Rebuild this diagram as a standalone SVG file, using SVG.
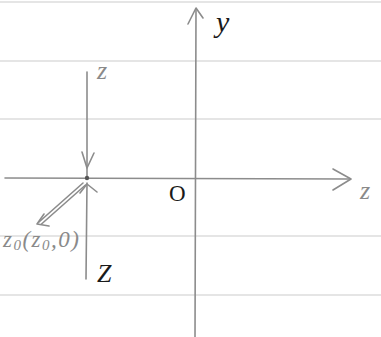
<svg xmlns="http://www.w3.org/2000/svg" width="381" height="337" viewBox="0 0 381 337">
<style>
.rule{stroke:#dcdcdc;stroke-width:1.5;fill:none}
.ax{stroke:#8c8c8c;stroke-width:1.6;fill:none;stroke-linecap:round;stroke-linejoin:round}
.lg{font-family:"Liberation Serif",serif;font-style:italic;fill:#8a8a8a}
.lb{font-family:"Liberation Serif",serif;font-style:italic;fill:#1a1a1a}
</style>
<rect width="381" height="337" fill="#ffffff"/>
<g id="paper">
<line class="rule" x1="0" y1="2" x2="381" y2="2"/>
<line class="rule" x1="0" y1="61" x2="381" y2="61"/>
<line class="rule" x1="0" y1="119" x2="381" y2="119"/>
<line class="rule" x1="0" y1="236" x2="381" y2="236"/>
<line class="rule" x1="0" y1="295" x2="381" y2="295"/>
</g>
<g id="connectors">
<line class="ax" x1="5" y1="178" x2="350" y2="179"/>
<polyline class="ax" points="333,169 351,179 333,190"/>
<line class="ax" x1="195" y1="337" x2="196" y2="9"/>
<polyline class="ax" points="188,24 196,8 203,18"/>
<line class="ax" x1="87" y1="72" x2="87" y2="176"/>
<polyline class="ax" points="82,152 87,168 94,153"/>
<line class="ax" x1="87" y1="183" x2="86" y2="279"/>
<polyline class="ax" points="80,193 87,184 97,192"/>
<line class="ax" x1="83" y1="183" x2="39" y2="222"/>
<line class="ax" x1="85.5" y1="185" x2="41.5" y2="224"/>
<polyline class="ax" points="44,214 37,224 49,226"/>
</g>
<g id="point"><circle cx="87" cy="178" r="2.2" fill="#555"/></g>
<g id="labels">
<text class="lb" x="216" y="32" font-size="30">y</text>
<text class="lg" x="360" y="199" font-size="26">z</text>
<text class="lg" x="97" y="79" font-size="26">z</text>
<text class="lb" x="97" y="282" font-size="26">Z</text>
<text x="169" y="201" font-size="23" font-family="Liberation Serif,serif" fill="#1a1a1a">O</text>
<text class="lg" x="3" y="247" font-size="23" letter-spacing="1.5">z<tspan font-size="15" dy="3">0</tspan><tspan dy="-3">(z</tspan><tspan font-size="15" dy="3">0</tspan><tspan dy="-3">,0)</tspan></text>
</g>
</svg>
